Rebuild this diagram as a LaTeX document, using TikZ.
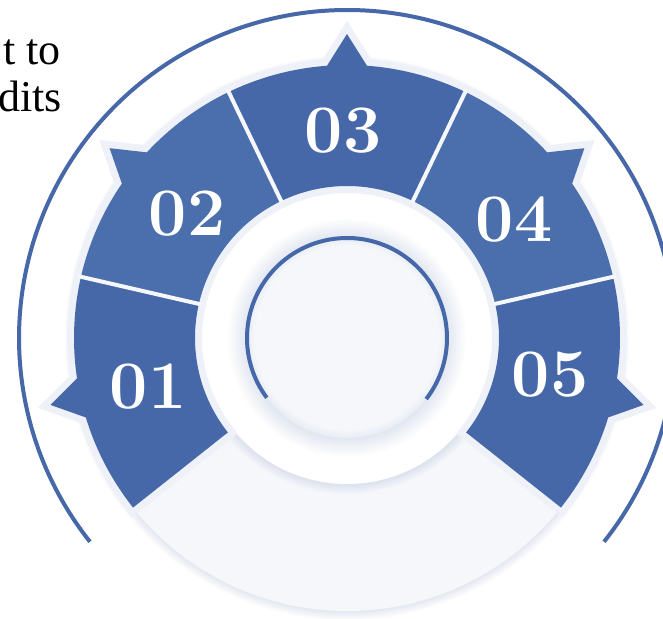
\documentclass[tikz,border=0pt]{standalone}
\usepackage{fontspec}
\newfontfamily\txtfont{Liberation Serif}
\definecolor{segA}{HTML}{4668A9}
\definecolor{segB}{HTML}{4B6FAC}
\definecolor{lite}{HTML}{F5F7FB}
\definecolor{bord}{HTML}{EEF1F8}
\definecolor{shad}{HTML}{D9DFEC}
\tikzset{
  segborder/.style={draw=bord, line width=10.5pt, line join=miter},
  sepline/.style={draw=lite, line width=3pt},
  numlabel/.style={text=white, inner sep=0pt, font=\fontsize{51}{51}\selectfont\bfseries},
  bodytext/.style={text=black, inner sep=0pt, anchor=base east, font=\txtfont\fontsize{33}{40}\selectfont},
  bluearc/.style={draw=segA, line width=3pt}
}
\begin{document}
\begin{tikzpicture}[x=0.75pt,y=0.75pt]
\useasboundingbox (0,0) rectangle (663,618);
\clip (0,0) rectangle (663,618);
\fill[white] (0,0) rectangle (663,618);
% text at top left
\node[bodytext] (t1) at (61,553) {t to};
\node[bodytext] (t2) at (62,506) {dits};
\begin{scope}[shift={(347,280)}]
  % outer thin arc
  \draw[bluearc] (-38.4:328) arc[start angle=-38.4, end angle=218.4, radius=328];
  % big light disc with soft edge
  \foreach \i in {0,...,9} {
    \pgfmathtruncatemacro\p{\i*8}
    \pgfmathsetmacro\r{283-\i}
    \fill[shad!\p!white] (0,0) circle (\r);
  }
  \fill[lite] (0,0) circle (273);
  % shadow around white ring
  \foreach \i in {0,...,9} {
    \pgfmathtruncatemacro\p{\i*9}
    \pgfmathsetmacro\r{157-\i}
    \fill[shad!\p!lite] (0,0) circle (\r);
  }
  \fill[white] (0,0) circle (146);
  % inner shaded band
  \foreach \i in {0,...,19} {
    \pgfmathtruncatemacro\p{\i*4}
    \pgfmathsetmacro\r{120-\i}
    \fill[shad!\p!white] (0,0) circle (\r);
  }
  \foreach \i in {0,...,7} {
    \pgfmathtruncatemacro\p{40-\i*5}
    \pgfmathsetmacro\r{100-\i}
    \fill[shad!\p!lite] (0,0) circle (\r);
  }
  \fill[lite] (0,0) circle (92);
  % inner blue arc
  \draw[bluearc] (-37.6:100) arc[start angle=-37.6, end angle=216.7, radius=100];
  % segment borders
  \foreach \hi/\lo in {218.4/167.04, 167.04/115.68, 115.68/64.32, 64.32/12.96, 12.96/-38.4} {
    \pgfmathsetmacro\m{(\hi+\lo)/2}
    \pgfmathsetmacro\ma{\m-4.2}
    \pgfmathsetmacro\mb{\m+4.2}
    \draw[segborder] (\lo:152) -- (\lo:273) arc[start angle=\lo, end angle=\ma, radius=273]
      -- (\m:304) -- (\mb:273) arc[start angle=\mb, end angle=\hi, radius=273]
      -- (\hi:152) arc[start angle=\hi, end angle=\lo, radius=152] -- cycle;
  }
  % segment fills
  \foreach \hi/\lo/\col in {218.4/167.04/segA, 167.04/115.68/segB, 115.68/64.32/segA, 64.32/12.96/segB, 12.96/-38.4/segA} {
    \pgfmathsetmacro\m{(\hi+\lo)/2}
    \pgfmathsetmacro\ma{\m-4.2}
    \pgfmathsetmacro\mb{\m+4.2}
    \fill[\col] (\lo:152) -- (\lo:273) arc[start angle=\lo, end angle=\ma, radius=273]
      -- (\m:304) -- (\mb:273) arc[start angle=\mb, end angle=\hi, radius=273]
      -- (\hi:152) arc[start angle=\hi, end angle=\lo, radius=152] -- cycle;
  }
  % separators
  \foreach \a in {167.04, 115.68, 64.32, 12.96} {
    \draw[sepline] (\a:150) -- (\a:276);
  }
\end{scope}
% numbers
\node[numlabel] (n1) at (148,231) {01};
\node[numlabel] (n2) at (187,404) {02};
\node[numlabel] (n3) at (343,487) {03};
\node[numlabel] (n4) at (514,398) {04};
\node[numlabel] (n5) at (550,243) {05};
\end{tikzpicture}
\end{document}
